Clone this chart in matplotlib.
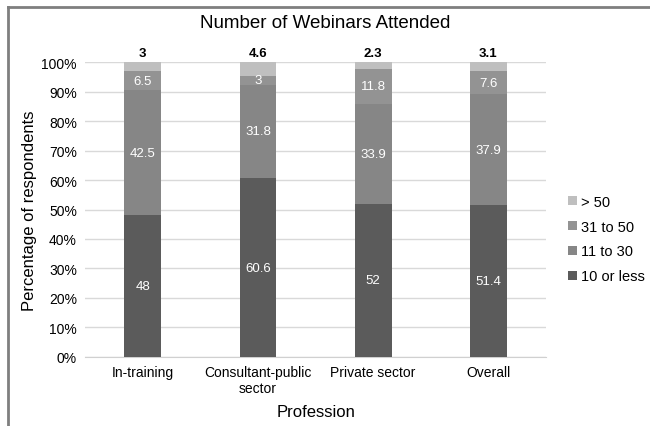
import numpy as np
import matplotlib.pyplot as plt
from matplotlib.lines import Line2D

plt.rcParams['font.family'] = ['Liberation Sans', 'DejaVu Sans']

categories = ["In-training", "Consultant-public\nsector", "Private sector", "Overall"]
le10 = [48, 60.6, 52, 51.4]
r11_30 = [42.5, 31.8, 33.9, 37.9]
r31_50 = [6.5, 3, 11.8, 7.6]
gt50 = [3, 4.6, 2.3, 3.1]

series = [("10 or less", le10, "#5b5b5b"),
          ("11 to 30", r11_30, "#868686"),
          ("31 to 50", r31_50, "#939393"),
          ("> 50", gt50, "#bfbfbf")]

fig = plt.figure(figsize=(6.5, 4.27), dpi=100)
ax = fig.add_axes([0.131, 0.162, 0.709, 0.690])

x = np.arange(len(categories))
bottom = np.zeros(len(categories))
handles = []
for i, (name, vals, col) in enumerate(series):
    vals = np.array(vals, dtype=float)
    b = ax.bar(x, vals, 0.32, bottom=bottom, color=col, label=name, zorder=3)
    handles.append(b)
    for xi, v, bt in zip(x, vals, bottom):
        if i < 3:
            ax.text(xi, bt + v / 2, f"{v:g}", ha="center", va="center",
                    color="white", fontsize=9.5, zorder=4)
        else:
            ax.text(xi, 101, f"{v:g}", ha="center", va="bottom",
                    color="black", fontsize=9.5, fontweight="bold", zorder=4)
    bottom += vals

ax.set_ylim(0, 100)
ax.set_xlim(-0.5, 3.5)
ax.set_yticks(np.arange(0, 101, 10))
ax.set_yticklabels([f"{t}%" for t in range(0, 101, 10)], fontsize=10)
ax.set_xticks(x)
ax.set_xticklabels(categories, fontsize=10)
ax.tick_params(length=0, pad=6)
ax.yaxis.grid(True, color="#d9d9d9", linewidth=1, zorder=0)
for s in ["top", "right", "left"]:
    ax.spines[s].set_visible(False)
ax.spines["bottom"].set_color("#d0d0d0")
ax.set_xlabel("Profession", fontsize=12, labelpad=6)
ax.set_ylabel("Percentage of respondents", fontsize=12, labelpad=3)

fig.text(0.5, 0.945, "Number of Webinars Attended", ha="center", va="center", fontsize=13.5)

ax.legend(handles[::-1], [s[0] for s in series][::-1], loc="center left",
          bbox_to_anchor=(1.02, 0.40), frameon=False, fontsize=10.5,
          handlelength=0.6, handleheight=0.6, handletextpad=0.3, labelspacing=0.75)

fig.add_artist(Line2D([8 / 650, 1], [1 - 8 / 427, 1 - 8 / 427], transform=fig.transFigure,
                      color="#7f7f7f", linewidth=2))
fig.add_artist(Line2D([8 / 650, 8 / 650], [0, 1 - 8 / 427], transform=fig.transFigure,
                      color="#7f7f7f", linewidth=2))

fig.savefig("out.png", dpi=100)
